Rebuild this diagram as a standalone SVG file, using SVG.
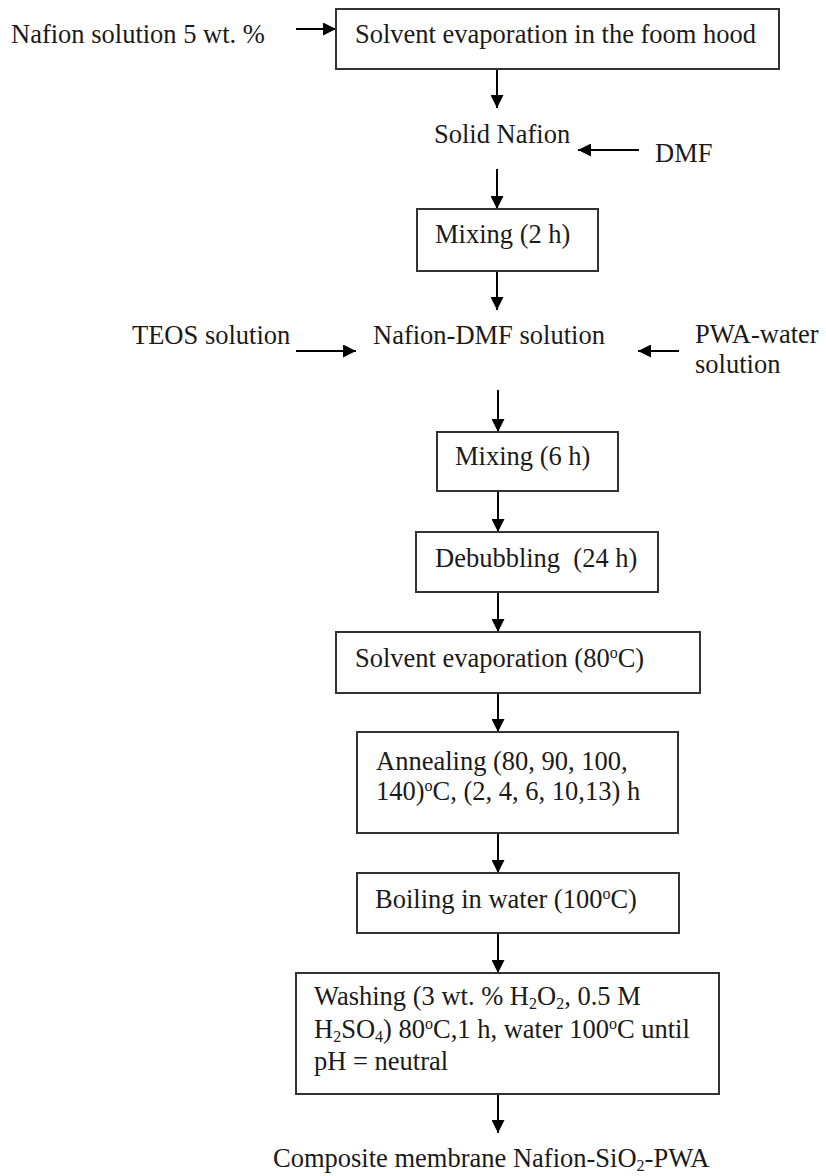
<svg xmlns="http://www.w3.org/2000/svg" width="826" height="1176" viewBox="0 0 826 1176">
<style>
text{font-family:"Liberation Serif","Times New Roman",serif;font-size:26.5px;fill:#1a1a1a}
.box{fill:#fff;stroke:#333;stroke-width:2}
.con{stroke:#000;stroke-width:2;fill:none;marker-end:url(#ah)}
.sup{font-size:16px}
.sub{font-size:16px}
</style>
<defs>
<marker id="ah" markerUnits="userSpaceOnUse" markerWidth="13" markerHeight="13" refX="13" refY="6.5" orient="auto">
<path d="M0,0 L13,6.5 L0,13 z" fill="#000"/>
</marker>
</defs>
<rect width="826" height="1176" fill="#fff"/>
<g id="connectors">
<path class="con" d="M296,29 H336"/>
<path class="con" d="M497,69 V108"/>
<path class="con" d="M639,150 H578"/>
<path class="con" d="M497,169 V209"/>
<path class="con" d="M497,271 V310"/>
<path class="con" d="M296,351 H356"/>
<path class="con" d="M679,351 H638"/>
<path class="con" d="M498,390 V432"/>
<path class="con" d="M498,491 V532"/>
<path class="con" d="M498,592 V632"/>
<path class="con" d="M498,693 V732"/>
<path class="con" d="M498,833 V873"/>
<path class="con" d="M498,933 V973"/>
<path class="con" d="M498,1094 V1133"/>
</g>
<g id="nafion-solution"><text x="11" y="43">Nafion solution 5 wt. %</text></g>
<g id="solvent-evap-hood"><rect class="box" x="336" y="9" width="443" height="60"/><text x="355" y="43">Solvent evaporation in the foom hood</text></g>
<g id="solid-nafion"><text x="434" y="143">Solid Nafion</text></g>
<g id="dmf"><text x="655" y="162">DMF</text></g>
<g id="mixing-2h"><rect class="box" x="417" y="209" width="181" height="62"/><text x="435" y="243">Mixing (2 h)</text></g>
<g id="teos"><text x="132" y="344">TEOS solution</text></g>
<g id="nafion-dmf"><text x="373" y="344">Nafion-DMF solution</text></g>
<g id="pwa"><text x="695" y="343">PWA-water</text><text x="695" y="373">solution</text></g>
<g id="mixing-6h"><rect class="box" x="437" y="432" width="181" height="59"/><text x="455" y="465">Mixing (6 h)</text></g>
<g id="debubbling"><rect class="box" x="416" y="532" width="242" height="60"/><text x="435" y="567" xml:space="preserve">Debubbling  (24 h)</text></g>
<g id="solvent-evap-80"><rect class="box" x="336" y="632" width="364" height="61"/><text x="355" y="667">Solvent evaporation (80<tspan class="sup" dy="-9">o</tspan><tspan dy="9">C)</tspan></text></g>
<g id="annealing"><rect class="box" x="357" y="732" width="321" height="101"/><text x="376" y="770">Annealing (80, 90, 100,</text><text x="376" y="800">140)<tspan class="sup" dy="-9">o</tspan><tspan dy="9">C, (2, 4, 6, 10,13) h</tspan></text></g>
<g id="boiling"><rect class="box" x="357" y="873" width="322" height="60"/><text x="375" y="908">Boiling in water (100<tspan class="sup" dy="-9">o</tspan><tspan dy="9">C)</tspan></text></g>
<g id="washing"><rect class="box" x="296" y="973" width="423" height="121"/>
<text x="314" y="1005">Washing (3 wt. % H<tspan class="sub" dy="4">2</tspan><tspan dy="-4">O</tspan><tspan class="sub" dy="4">2</tspan><tspan dy="-4">, 0.5 M</tspan></text>
<text x="314" y="1038">H<tspan class="sub" dy="4">2</tspan><tspan dy="-4">SO</tspan><tspan class="sub" dy="4">4</tspan><tspan dy="-4">) 80</tspan><tspan class="sup" dy="-9">o</tspan><tspan dy="9">C,1 h, water 100</tspan><tspan class="sup" dy="-9">o</tspan><tspan dy="9">C until</tspan></text>
<text x="314" y="1070">pH = neutral</text></g>
<g id="composite"><text x="273" y="1167">Composite membrane Nafion-SiO<tspan class="sub" dy="4">2</tspan><tspan dy="-4">-PWA</tspan></text></g>
</svg>
